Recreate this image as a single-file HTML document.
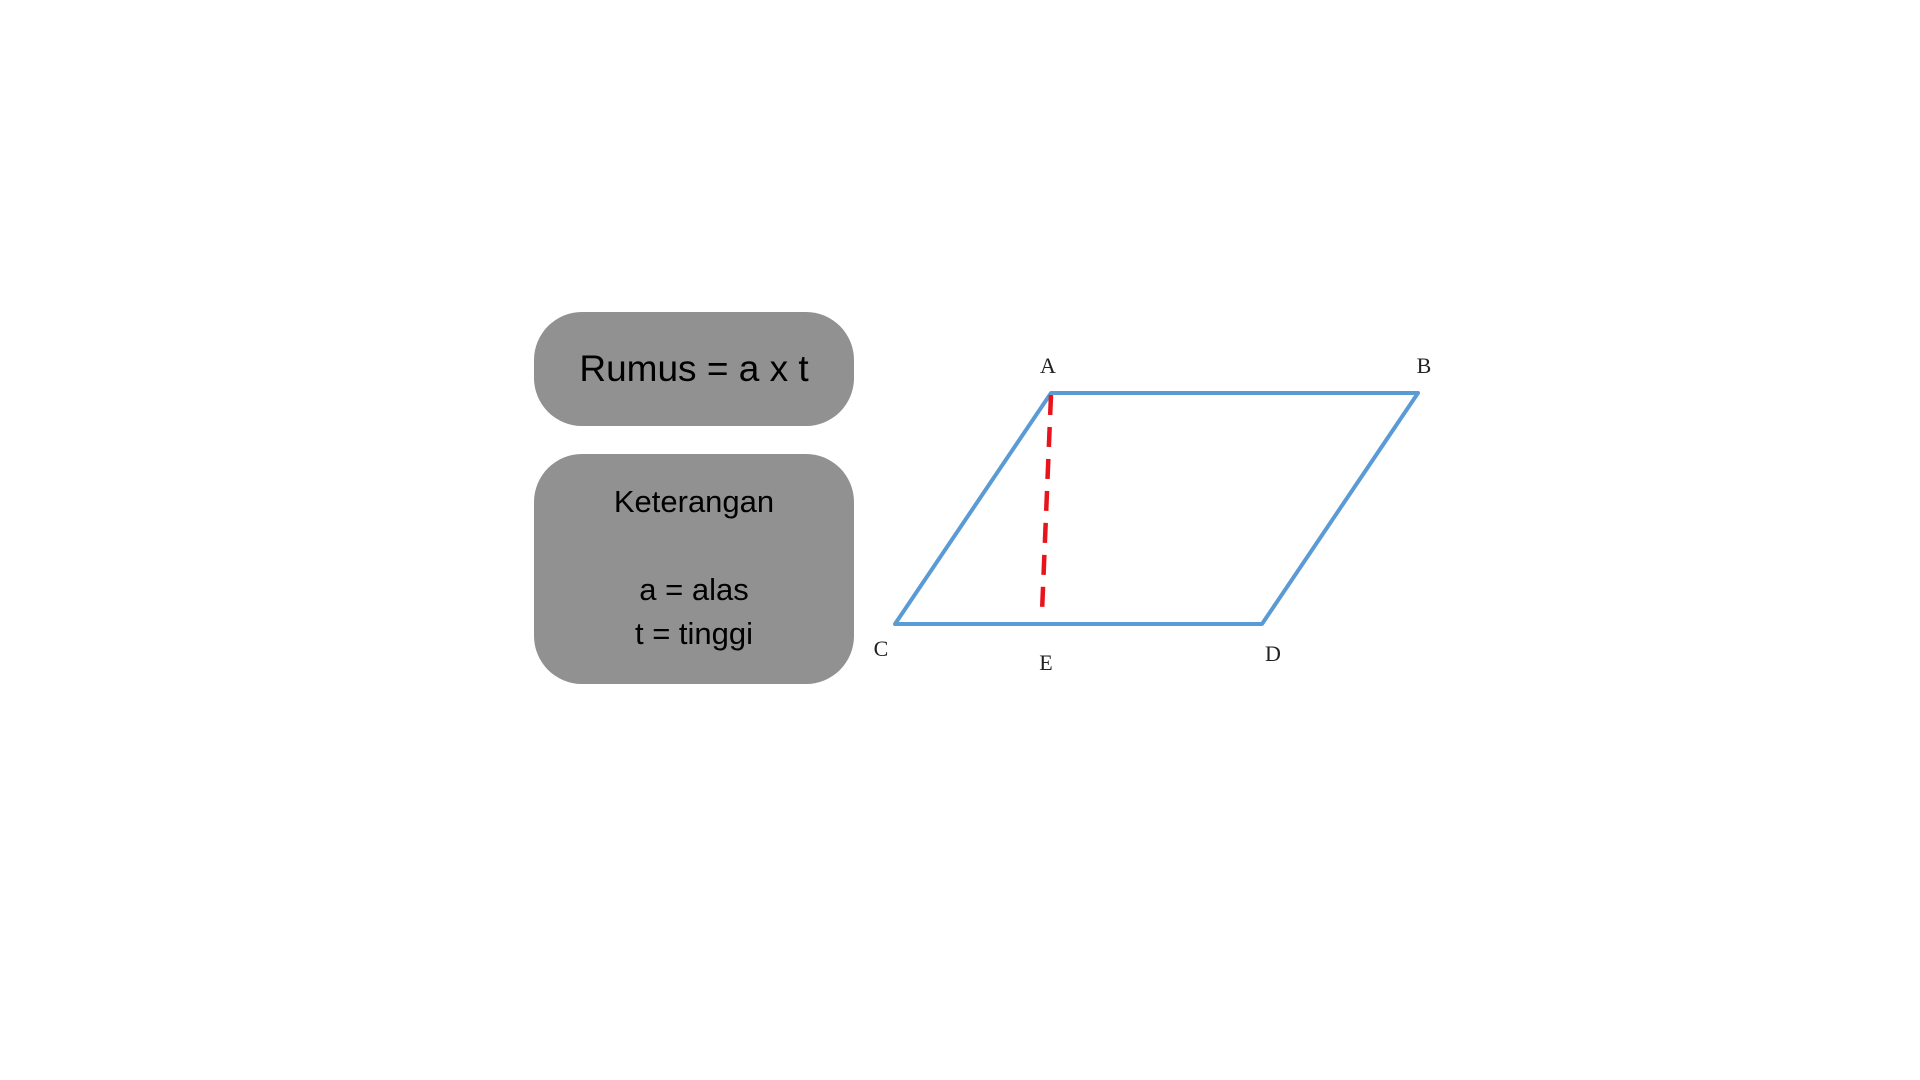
<!DOCTYPE html>
<html>
<head>
<meta charset="utf-8">
<style>
html,body{margin:0;padding:0;background:#fff;width:1920px;height:1080px;overflow:hidden;}
.box{position:absolute;background:#919191;color:#000;font-family:"Liberation Sans","DejaVu Sans",sans-serif;text-align:center;}
#b1{left:534px;top:312px;width:320px;height:114px;border-radius:48px;font-size:37px;line-height:114px;}
#b2{left:534px;top:454px;width:320px;height:230px;border-radius:48px;font-size:31px;}
#b2 div{position:absolute;left:0;width:100%;}
svg{position:absolute;left:0;top:0;}
</style>
</head>
<body>
<div class="box" id="b1">Rumus = a x t</div>
<div class="box" id="b2">
  <div style="top:30px">Keterangan</div>
  <div style="top:118px">a = alas</div>
  <div style="top:162px">t = tinggi</div>
</div>
<svg width="1920" height="1080">
  <polygon points="1051,393 1418,393 1262,624 895,624" fill="none" stroke="#5b9bd5" stroke-width="4" stroke-linejoin="round"/>
  <line x1="1051" y1="395" x2="1042" y2="612" stroke="#e8141c" stroke-width="4.5" stroke-dasharray="20,12"/>
  <g font-family="Liberation Serif,serif" font-size="22" fill="#222" text-anchor="middle">
    <text x="1048" y="373">A</text>
    <text x="1424" y="373">B</text>
    <text x="881" y="656">C</text>
    <text x="1046" y="670">E</text>
    <text x="1273" y="661">D</text>
  </g>
</svg>
</body>
</html>
